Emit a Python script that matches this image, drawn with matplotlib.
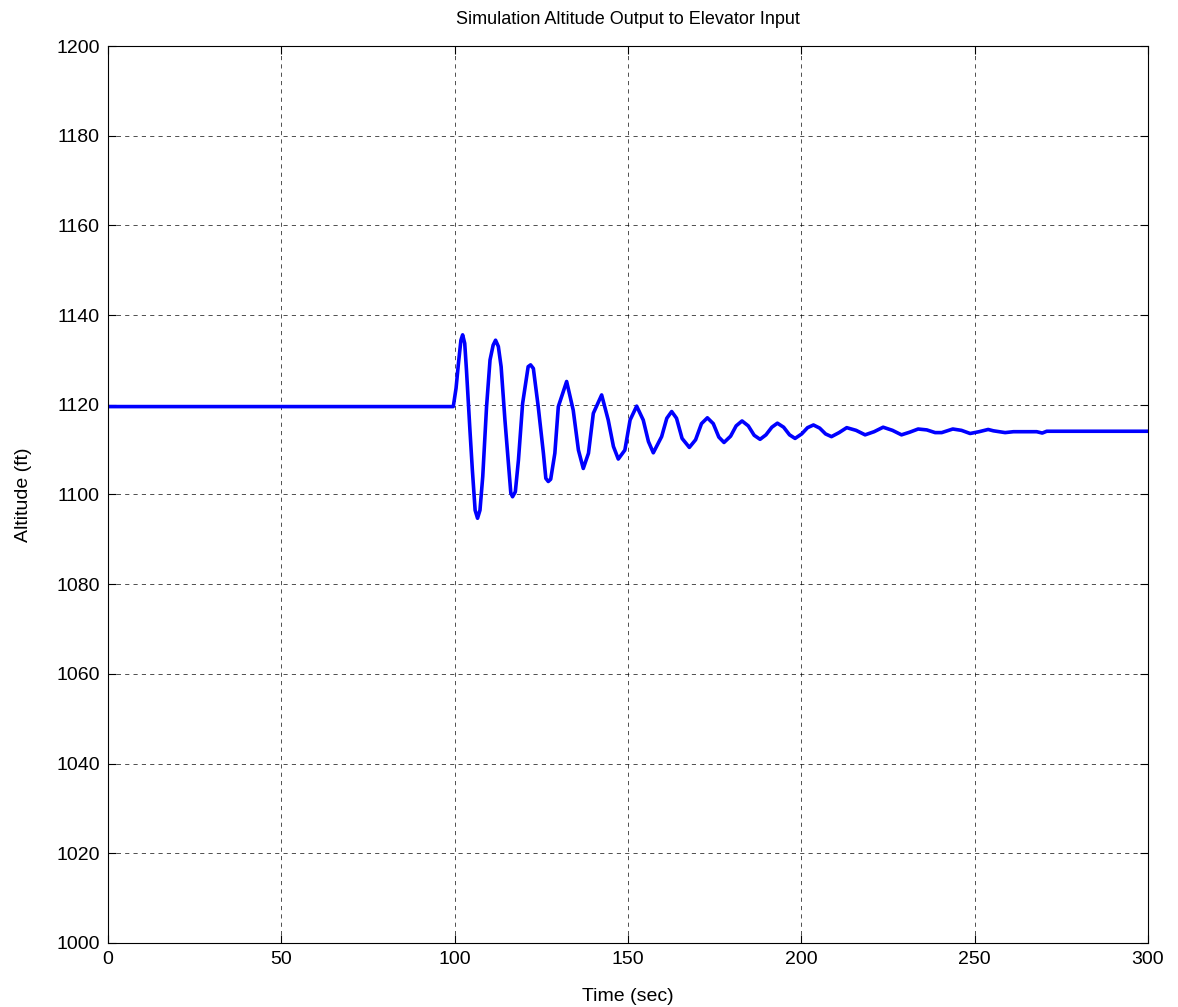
import matplotlib
matplotlib.use("Agg")
from matplotlib import pyplot as plt
import numpy as np

# altitude response (time in sec, altitude in ft)
t_sec = [0, 99.6, 100.4, 101.1, 101.8, 102.3, 102.9, 103.4, 104.4, 105.1, 105.9, 106.6, 107.3,
         108.1, 109.2, 110.2, 111.1, 111.8, 112.6, 113.4, 114.5, 115.5, 116.2, 116.7, 117.5,
         118.4, 119.6, 121.2, 121.9, 122.7, 124.1, 125.6, 126.3, 127.0, 127.7,
         128.9, 129.9, 132.3, 134.2, 135.7, 137.1, 138.6, 140.0, 142.4, 144.3, 145.8,
         147.2, 149.1, 150.6, 152.5, 154.4, 155.9, 157.3, 159.7, 161.2, 162.6, 164.0,
         165.6, 167.7, 169.5, 171.2, 172.9, 174.6, 176.2, 177.7, 179.6, 181.2, 182.9,
         184.7, 186.4, 188.1, 189.8, 191.5, 193.1, 194.9, 196.6, 198.2, 200.1, 201.8,
         203.5, 205.3, 207.0, 208.7, 210.9, 213.1, 215.8, 218.4, 221.0, 223.6, 226.3,
         228.9, 231.3, 233.7, 236.2, 238.6, 240.5, 243.7, 246.2, 248.7, 251.3, 253.9,
         255.4, 258.8, 261.2, 267.9, 269.5, 270.8, 300]
alt_ft = [1119.6, 1119.6, 1123.7, 1129.3, 1134.4, 1135.6, 1133.7, 1127.8, 1114.4, 1105.5,
          1096.5, 1094.7, 1096.5, 1104.0,
          1119.6, 1130.0, 1133.3, 1134.4, 1133.0, 1128.5, 1116.6, 1107.0, 1100.3, 1099.5,
          1100.6, 1107.7, 1120.3, 1128.5, 1128.9, 1128.1,
          1119.6, 1109.2, 1103.6, 1102.9, 1103.4, 1109.2, 1119.6, 1125.2, 1118.8, 1109.9,
          1105.8, 1109.2,
          1118.1, 1122.2, 1116.6, 1110.7, 1107.9, 1109.9, 1116.6, 1119.7, 1116.6, 1111.8,
          1109.3, 1112.9, 1117.0, 1118.5, 1117.0, 1112.5, 1110.5, 1112.2, 1115.8, 1117.1,
          1115.8, 1112.8, 1111.6, 1113.0, 1115.3, 1116.4, 1115.3, 1113.2, 1112.3, 1113.3,
          1115.0, 1115.9, 1115.0, 1113.3, 1112.5, 1113.5, 1114.9, 1115.5, 1114.8, 1113.5,
          1112.9, 1113.8, 1114.9, 1114.3, 1113.3, 1114.0, 1115.0, 1114.3, 1113.3, 1113.9,
          1114.6, 1114.4, 1113.8, 1113.8, 1114.6, 1114.3, 1113.6, 1114.0, 1114.5, 1114.2,
          1113.8, 1114.0, 1114.0, 1113.7, 1114.1, 1114.1]

xticks = [0, 50, 100, 150, 200, 250, 300]
yticks = [1000, 1020, 1040, 1060, 1080, 1100, 1120, 1140, 1160, 1180, 1200]

plt.rcParams['font.family'] = ['Liberation Sans', 'DejaVu Sans']

fig = plt.figure(figsize=(11.78, 10.07), dpi=100)
ax = fig.add_axes([0.0917, 0.0636, 0.8828, 0.8907])
ax.plot(t_sec, alt_ft, color='#0000FF', linewidth=2.6,
        solid_joinstyle='round', solid_capstyle='round')

ax.set_xlim(0, 300)
ax.set_ylim(1000, 1200)
ax.set_xticks(xticks)
ax.set_yticks(yticks)
ax.tick_params(direction='in', top=True, right=True, labelsize=14, length=6, pad=6)
ax.grid(True, color='black', linestyle=(0, (5, 5)), linewidth=0.6, alpha=0.8)
for s in ax.spines.values():
    s.set_linewidth(0.8)

ax.set_title("Simulation Altitude Output to Elevator Input", fontsize=13, pad=16)
ax.set_xlabel("Time (sec)", fontsize=14, labelpad=14)
ax.set_ylabel("Altitude (ft)", fontsize=14, labelpad=17)

fig.savefig("out.png", dpi=100)
